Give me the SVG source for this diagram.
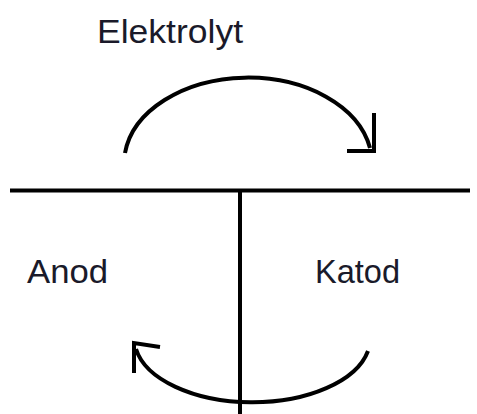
<svg xmlns="http://www.w3.org/2000/svg" width="477" height="414" viewBox="0 0 477 414">
<style>
.ln{fill:none;stroke:#000;stroke-width:4;}
.t{font-family:"Liberation Sans",Arial,sans-serif;font-size:34px;fill:#1a1a2a;}
</style>
<rect width="477" height="414" fill="#fff"/>
<g id="electrolyte"><text class="t" x="97" y="43" textLength="146" lengthAdjust="spacingAndGlyphs">Elektrolyt</text></g>
<g id="anode"><text class="t" x="27" y="283" textLength="81" lengthAdjust="spacingAndGlyphs">Anod</text></g>
<g id="cathode"><text class="t" x="315" y="283" textLength="85" lengthAdjust="spacingAndGlyphs">Katod</text></g>
<g id="connectors">
<line class="ln" x1="10" y1="190.5" x2="470" y2="190.5"/>
<line class="ln" x1="240" y1="190" x2="240" y2="414"/>
<path class="ln" d="M125 153 A124 86 0 0 1 370 148"/>
<polyline class="ln" points="374,113 374,151 347,151"/>
<path class="ln" d="M368 351 A118 64 0 0 1 136 349"/>
<polyline class="ln" points="134,373 134,343 160,347"/>
</g>
</svg>
